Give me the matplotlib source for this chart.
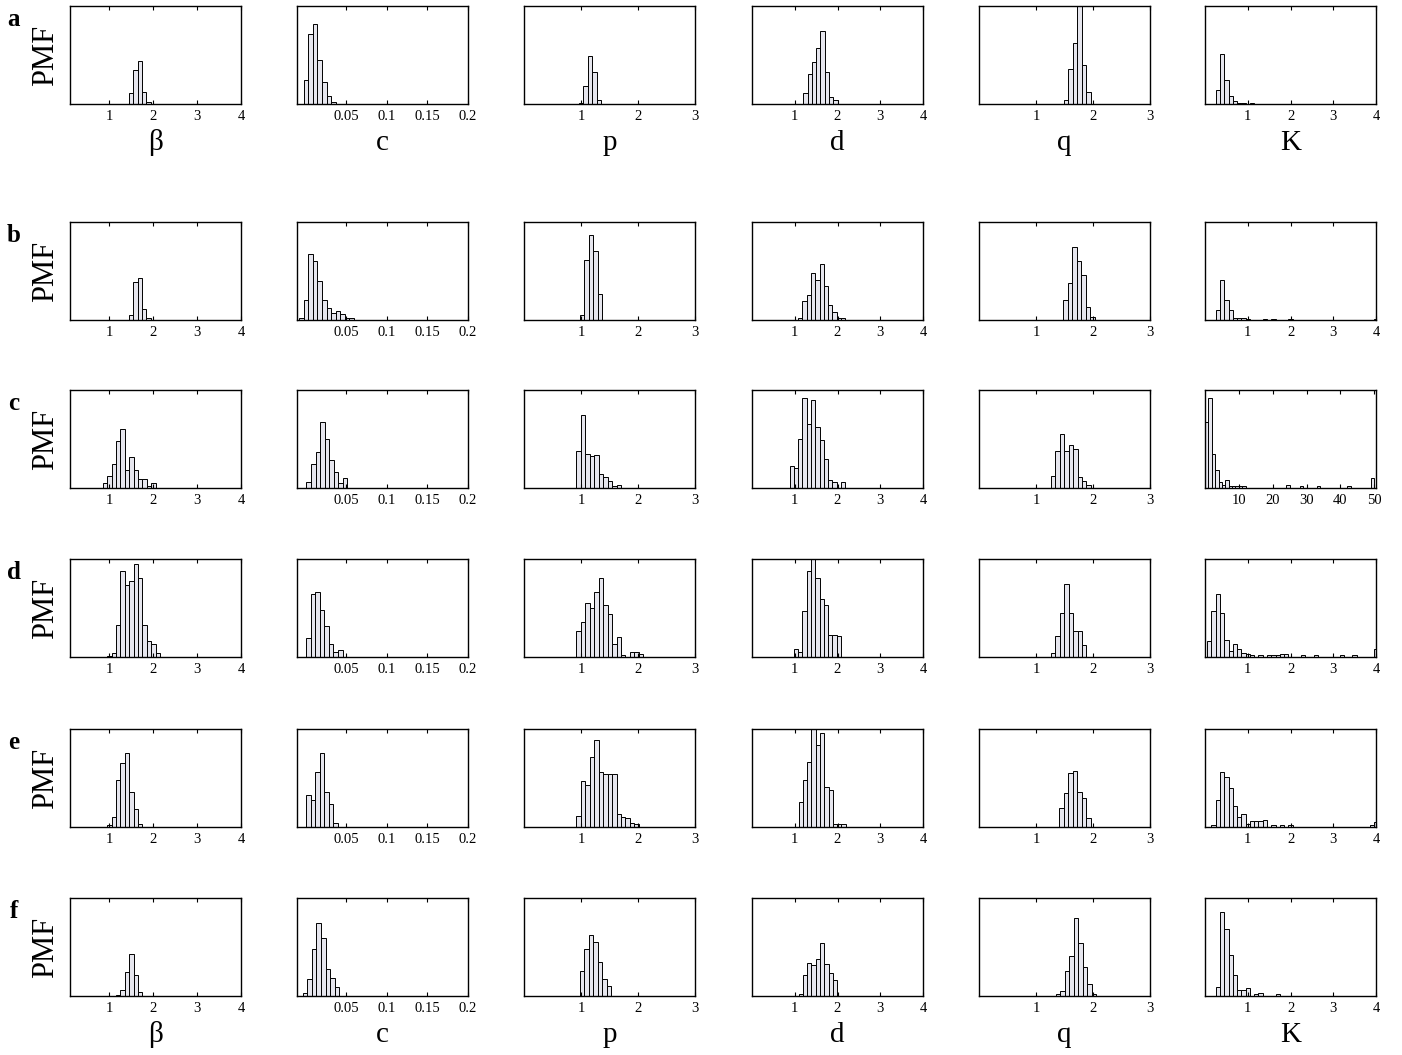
import matplotlib
matplotlib.use('Agg')
import matplotlib.pyplot as plt
import numpy as np

plt.rcParams['font.family'] = ['Liberation Serif', 'DejaVu Serif']

# ---------------- data ----------------
ROW_LABELS = ['a', 'b', 'c', 'd', 'e', 'f']
PARAMS = ['\u03b2', 'c', 'p', 'd', 'q', 'K']

# per-column axis ranges, ticks, and bin widths
XLIMS = [(0.1, 4), (-0.01, 0.2), (0, 3), (0, 4), (0, 3), (0, 4)]
XTICKS = [[1, 2, 3, 4], [0.05, 0.1, 0.15, 0.2], [1, 2, 3],
          [1, 2, 3, 4], [1, 2, 3], [1, 2, 3, 4]]
XTICKLABELS = [['1', '2', '3', '4'], ['0.05', '0.1', '0.15', '0.2'], ['1', '2', '3'],
               ['1', '2', '3', '4'], ['1', '2', '3'], ['1', '2', '3', '4']]
BIN_W = [0.1, 0.0056, 0.078, 0.1, 0.078, 0.1]

# row c, K panel has a wider range
K_WIDE_XLIM = (0, 50.5)
K_WIDE_TICKS = [10, 20, 30, 40, 50]
K_WIDE_BIN = 1.0

# first bin centre of every panel, and the PMF heights (fraction of axis height)
a_start = [1.39, 0.0011, 1.0, 1.25, 1.53, 0.3]
a_pmf = [
    [0.005, 0.11, 0.35, 0.44, 0.12, 0.02],
    [0.24, 0.71, 0.82, 0.45, 0.22, 0.08, 0.02],
    [0.01, 0.18, 0.49, 0.33, 0.04],
    [0.11, 0.31, 0.43, 0.57, 0.74, 0.33, 0.07, 0.04],
    [0.04, 0.36, 0.62, 1.05, 0.40, 0.12],
    [0.14, 0.51, 0.24, 0.08, 0.03, 0.015, 0.01, 0, 0.01],
]

b_start = [1.49, -0.0045, 1.02, 1.13, 1.52, 0.3]
b_pmf = [
    [0.05, 0.39, 0.43, 0.11, 0.02],
    [0.02, 0.20, 0.67, 0.60, 0.40, 0.20, 0.12, 0.07, 0.09, 0.06, 0.02, 0.02],
    [0.05, 0.61, 0.87, 0.70, 0.27],
    [0.02, 0.19, 0.26, 0.48, 0.41, 0.57, 0.35, 0.15, 0.08, 0.02, 0.02],
    [0.20, 0.38, 0.75, 0.60, 0.46, 0.13, 0.03],
    [0.10, 0.41, 0.20, 0.10, 0.02, 0.02, 0.02, 0.01, 0, 0, 0, 0.01, 0, 0.01,
     0, 0, 0, 0.01] + [0] * 19 + [0.01],
]

c_start = [0.9, 0.0044, 0.96, 0.93, 1.30, 0.5]
c_pmf = [
    [0.05, 0.12, 0.25, 0.48, 0.60, 0.18, 0.32, 0.18, 0.09, 0.09, 0.02, 0.05],
    [0.06, 0.24, 0.37, 0.67, 0.50, 0.29, 0.16, 0.05, 0.10],
    [0.38, 0.74, 0.35, 0.33, 0.34, 0.14, 0.11, 0.07, 0.02, 0.03],
    [0.22, 0.20, 0.50, 0.92, 0.65, 0.90, 0.62, 0.49, 0.30, 0.08, 0.06, 0, 0.06],
    [0.12, 0.38, 0.55, 0.38, 0.44, 0.40, 0.11, 0.07, 0.03],
    [0.67, 0.92, 0.35, 0.18, 0.06, 0.03, 0.08, 0.02, 0.02, 0.02, 0.02, 0.02]
    + [0] * 12 + [0.03] + [0] * 3 + [0.02] + [0] * 4 + [0.02] + [0] * 8
    + [0.02] + [0] * 6 + [0.10],
]

d_start = [1.0, 0.0039, 0.96, 1.03, 1.30, 0.1]
d_pmf = [
    [0.01, 0.04, 0.33, 0.88, 0.73, 0.78, 0.95, 0.81, 0.33, 0.16, 0.13, 0.04],
    [0.19, 0.64, 0.66, 0.48, 0.32, 0.13, 0.05, 0.07],
    [0.27, 0.36, 0.55, 0.50, 0.66, 0.81, 0.53, 0.44, 0.13, 0.20, 0.02, 0, 0.05, 0.05, 0.03],
    [0.08, 0.05, 0.47, 0.88, 1.05, 0.81, 0.59, 0.53, 0.22, 0.22, 0.21],
    [0.04, 0.21, 0.45, 0.75, 0.45, 0.27, 0.27, 0.12],
    [0.16, 0.47, 0.64, 0.45, 0.17, 0.06, 0.13, 0.08, 0.04, 0.03, 0.02, 0, 0.02, 0,
     0.02, 0.02, 0.02, 0.03, 0.03, 0, 0, 0, 0.02, 0, 0, 0.02, 0, 0, 0, 0, 0,
     0.02, 0, 0, 0.02, 0, 0, 0, 0, 0.08],
]

e_start = [1.0, 0.0039, 0.96, 1.14, 1.45, 0.1]
e_pmf = [
    [0.02, 0.10, 0.48, 0.65, 0.76, 0.36, 0.18, 0.03],
    [0.33, 0.28, 0.56, 0.76, 0.36, 0.23, 0.04],
    [0.11, 0.47, 0.43, 0.71, 0.89, 0.56, 0.54, 0.54, 0.54, 0.13, 0.10, 0.09, 0.04, 0.03],
    [0.26, 0.48, 0.66, 1.05, 0.84, 0.96, 0.41, 0.38, 0.03, 0.03, 0.03],
    [0.19, 0.35, 0.55, 0.57, 0.36, 0.30, 0.09],
    [0, 0.02, 0.28, 0.56, 0.51, 0.40, 0.21, 0.10, 0.13, 0.03, 0.06, 0.06, 0.06,
     0.07, 0, 0.02, 0, 0.02, 0, 0.02] + [0] * 18 + [0.02, 0.05],
]

f_start = [1.2, -0.0001, 1.02, 1.14, 1.39, 0.3]
f_pmf = [
    [0.01, 0.06, 0.25, 0.43, 0.21, 0.04],
    [0.03, 0.17, 0.48, 0.75, 0.59, 0.28, 0.18, 0.09],
    [0.26, 0.48, 0.62, 0.55, 0.35, 0.17, 0.10],
    [0.02, 0.21, 0.34, 0.32, 0.38, 0.54, 0.33, 0.23, 0.16],
    [0.02, 0.05, 0.26, 0.41, 0.80, 0.54, 0.30, 0.12, 0.02],
    [0.09, 0.86, 0.68, 0.42, 0.21, 0.06, 0.06, 0.08, 0, 0.02, 0.03, 0, 0, 0, 0.02],
]

STARTS = [a_start, b_start, c_start, d_start, e_start, f_start]
PMFS = [a_pmf, b_pmf, c_pmf, d_pmf, e_pmf, f_pmf]

# ---------------- layout (pixels) ----------------
W, H = 1402, 1055
COL_LEFT = [70, 297, 524, 752, 979, 1205]
ROW_TOP = [6, 222, 390, 559, 729, 898]
AX_W, AX_H = 171, 98

fig = plt.figure(figsize=(W / 100, H / 100), dpi=100)

for r in range(6):
    for c in range(6):
        ax = fig.add_axes([COL_LEFT[c] / W, 1 - (ROW_TOP[r] + AX_H) / H,
                           AX_W / W, AX_H / H])
        heights = np.array(PMFS[r][c])
        width = BIN_W[c]
        xlim, ticks, labels = XLIMS[c], XTICKS[c], XTICKLABELS[c]
        if r == 2 and c == 5:
            width = K_WIDE_BIN
            xlim, ticks = K_WIDE_XLIM, K_WIDE_TICKS
            labels = [str(t) for t in ticks]
        x = STARTS[r][c] + width * np.arange(len(heights))
        keep = heights > 0
        ax.bar(x[keep], heights[keep], width=width, color='#e6e6ee',
               edgecolor='black', linewidth=0.7)

        ax.set_xlim(*xlim)
        ax.set_ylim(0, 1)
        ax.set_xticks(ticks)
        ax.set_xticklabels(labels)
        ax.set_yticks([])
        ax.tick_params(axis='x', direction='in', top=True, length=3,
                       width=0.8, labelsize=10.5, pad=4)
        for s in ax.spines.values():
            s.set_linewidth(1.0)

        if c == 0:
            ax.set_ylabel('PMF', fontsize=22, labelpad=7)
        if r in (0, 5):
            ax.set_xlabel(PARAMS[c], fontsize=21, labelpad=5)

    fig.text(14 / W, 1 - (ROW_TOP[r] + 20) / H, ROW_LABELS[r],
             fontsize=18, fontweight='bold', ha='center', va='baseline')

fig.savefig('out.png', dpi=100)
